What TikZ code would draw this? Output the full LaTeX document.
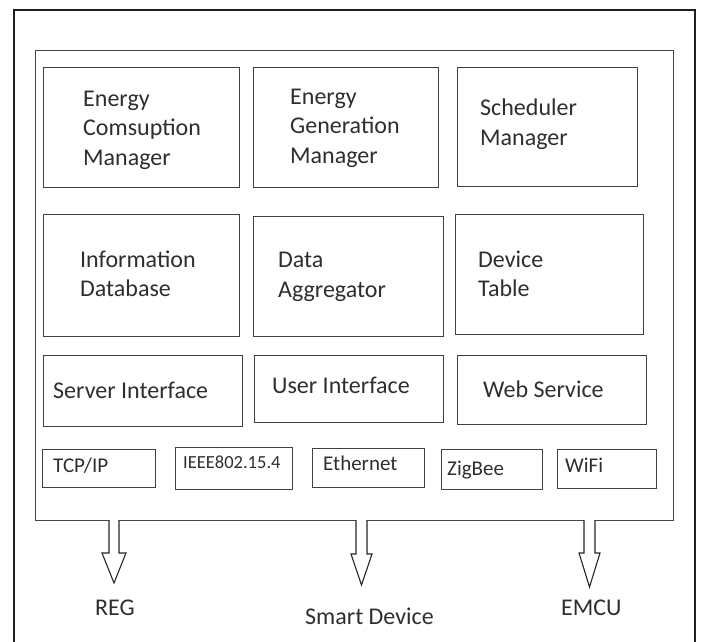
\documentclass[tikz,border=0pt]{standalone}
\usepackage{fontspec}
\setmainfont{Carlito}
\begin{document}
\begin{tikzpicture}[x=1pt,y=-1pt,
  frame/.style={draw=black!88,line width=2.4pt},
  bigbox/.style={draw=black!72,line width=1.4pt},
  modbox/.style={draw=black!75,line width=1.2pt},
  protbox/.style={draw=black!75,line width=1.1pt},
  lbl/.style={inner sep=0pt,font=\fontsize{24}{29.5}\selectfont,text=black!82,align=left},
  plbl/.style={inner sep=0pt,font=\fontsize{21}{25}\selectfont,text=black!82},
  blockarrow/.style={draw=black!85,line width=1.1pt,fill=white,line join=miter}]
\useasboundingbox (0,0) rectangle (701,642);
% outer frame (bottom edge lies below the picture)
\draw[frame] (14,646) -- (14,10) -- (695,10) -- (695,646);
% inner box
\node[bigbox,minimum width=638pt,minimum height=470pt,inner sep=0pt,anchor=north west] (sys) at (35,50) {};
% row 1
\node[modbox,minimum width=196pt,minimum height=120pt,inner sep=0pt,anchor=north west] (ecm) at (43,67) {};
\node[modbox,minimum width=185pt,minimum height=120pt,inner sep=0pt,anchor=north west] (egm) at (253,67) {};
\node[modbox,minimum width=180pt,minimum height=119pt,inner sep=0pt,anchor=north west] (sm) at (457,67) {};
% row 2
\node[modbox,minimum width=196pt,minimum height=122pt,inner sep=0pt,anchor=north west] (idb) at (43,214) {};
\node[modbox,minimum width=190pt,minimum height=120pt,inner sep=0pt,anchor=north west] (da) at (253,216) {};
\node[modbox,minimum width=188pt,minimum height=120pt,inner sep=0pt,anchor=north west] (dt) at (455,214) {};
% row 3
\node[modbox,minimum width=199pt,minimum height=71pt,inner sep=0pt,anchor=north west] (si) at (43,355) {};
\node[modbox,minimum width=189pt,minimum height=67pt,inner sep=0pt,anchor=north west] (ui) at (254,355) {};
\node[modbox,minimum width=189pt,minimum height=69pt,inner sep=0pt,anchor=north west] (ws) at (457,355) {};
% row 4
\node[protbox,minimum width=113pt,minimum height=38pt,inner sep=0pt,anchor=north west] (tcp) at (42,449) {};
\node[protbox,minimum width=117pt,minimum height=42pt,inner sep=0pt,anchor=north west] (ieee) at (175,447) {};
\node[protbox,minimum width=112pt,minimum height=39pt,inner sep=0pt,anchor=north west] (eth) at (312,448) {};
\node[protbox,minimum width=101pt,minimum height=40pt,inner sep=0pt,anchor=north west] (zig) at (441,449) {};
\node[protbox,minimum width=99pt,minimum height=39pt,inner sep=0pt,anchor=north west] (wifi) at (557,449) {};
% texts
\node[lbl,anchor=west] (ecmT) at (83,130) {Energy\\Comsuption\\Manager};
\node[lbl,anchor=west] (egmT) at (290,128) {Energy\\Generation\\Manager};
\node[lbl,anchor=west] (smT) at (480,124) {Scheduler\\Manager};
\node[lbl,anchor=west] (idbT) at (80,274) {Information\\Database};
\node[lbl,anchor=west] (daT) at (278,277) {Data\\Aggregator};
\node[lbl,anchor=west] (dtT) at (478,274) {Device\\Table};
\node[lbl,anchor=base west] (siT) at (53,398) {Server Interface};
\node[lbl,anchor=base west] (uiT) at (272,393) {User Interface};
\node[lbl,anchor=base west] (wsT) at (483,397) {Web Service};
\node[plbl,anchor=base west] (tcpT) at (53,472) {TCP/IP};
\node[plbl,anchor=base west,font=\fontsize{18.5}{22}\selectfont] (ieeeT) at (183,468) {IEEE802.15.4};
\node[plbl,anchor=base west] (ethT) at (323,470) {Ethernet};
\node[plbl,anchor=base west] (zigT) at (447,475) {ZigBee};
\node[plbl,anchor=base west] (wifiT) at (565,472) {WiFi};
% bottom labels
\node[lbl,anchor=base west] (reg) at (95,615) {REG};
\node[lbl,anchor=base west] (smart) at (305,624) {Smart Device};
\node[lbl,anchor=base west] (emcu) at (561,615) {EMCU};
% block arrows from the system box
\coordinate (a1) at (114,520);
\coordinate (a2) at (361.5,520);
\coordinate (a3) at (589.5,520);
\draw[blockarrow] ([xshift=-5pt]a1) -- ++(0,33) -- ++(-7,0) -- ++(12,30) -- ++(12,-30) -- ++(-7,0) -- ++(0,-33);
\draw[blockarrow] ([xshift=-5.5pt]a2) -- ++(0,34) -- ++(-5,0) -- ++(10.5,31) -- ++(10.5,-31) -- ++(-5,0) -- ++(0,-34);
\draw[blockarrow] ([xshift=-5.5pt]a3) -- ++(0,33) -- ++(-5,0) -- ++(10.5,34) -- ++(10.5,-34) -- ++(-5,0) -- ++(0,-33);
\end{tikzpicture}
\end{document}
